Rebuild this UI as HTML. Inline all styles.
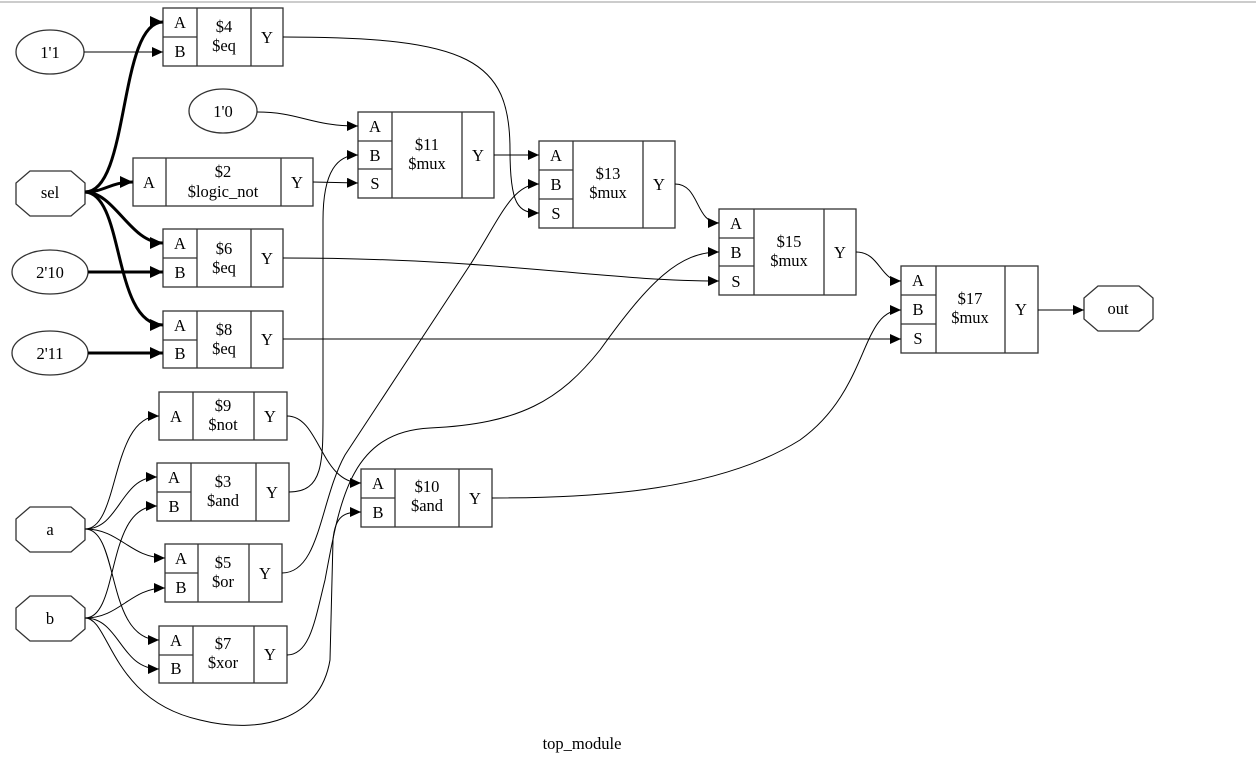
<!DOCTYPE html>
<html><head><meta charset="utf-8"><style>
html,body{margin:0;padding:0;background:#fff;}
svg{display:block;}
text{font-family:"Liberation Serif","DejaVu Serif",serif;font-size:16.5px;fill:#000;}
</style></head><body>
<svg width="1256" height="758" viewBox="0 0 1256 758" xmlns="http://www.w3.org/2000/svg">
<defs>
<marker id="ar" markerUnits="userSpaceOnUse" markerWidth="12" markerHeight="10" refX="11" refY="5" orient="auto"><path d="M0,0 L11,5 L0,10 z" fill="#000"/></marker>
<marker id="art" markerUnits="userSpaceOnUse" markerWidth="14" markerHeight="12" refX="13" refY="6" orient="auto"><path d="M0,0 L13,6 L0,12 z" fill="#000"/></marker>
</defs>
<line x1="0" y1="2" x2="1256" y2="2" stroke="#ccc" stroke-width="2"/>
<g fill="none" stroke="#333" stroke-width="1.3">
<ellipse cx="50" cy="52" rx="34" ry="22"/>
<ellipse cx="223" cy="111" rx="34" ry="22"/>
<ellipse cx="50" cy="272" rx="38" ry="22"/>
<ellipse cx="50" cy="353" rx="38" ry="22"/>
<polygon points="30,171 71,171 85,183 85,204 71,216 30,216 16,204 16,183"/>
<polygon points="30,507 71,507 85,519 85,540 71,552 30,552 16,540 16,519"/>
<polygon points="30,596 71,596 85,608 85,629 71,641 30,641 16,629 16,608"/>
<polygon points="1098,286 1139,286 1153,298 1153,319 1139,331 1098,331 1084,319 1084,298"/>
<rect x="163" y="8" width="120" height="58"/><line x1="197" y1="8" x2="197" y2="66"/><line x1="251" y1="8" x2="251" y2="66"/><line x1="163" y1="37" x2="197" y2="37"/>
<rect x="163" y="229" width="120" height="58"/><line x1="197" y1="229" x2="197" y2="287"/><line x1="251" y1="229" x2="251" y2="287"/><line x1="163" y1="258" x2="197" y2="258"/>
<rect x="163" y="311" width="120" height="57"/><line x1="197" y1="311" x2="197" y2="368"/><line x1="251" y1="311" x2="251" y2="368"/><line x1="163" y1="340" x2="197" y2="340"/>
<rect x="133" y="158" width="180" height="48"/><line x1="166" y1="158" x2="166" y2="206"/><line x1="281" y1="158" x2="281" y2="206"/>
<rect x="358" y="112" width="136" height="86"/><line x1="392" y1="112" x2="392" y2="198"/><line x1="462" y1="112" x2="462" y2="198"/><line x1="358" y1="141" x2="392" y2="141"/><line x1="358" y1="169" x2="392" y2="169"/>
<rect x="539" y="141" width="136" height="87"/><line x1="573" y1="141" x2="573" y2="228"/><line x1="643" y1="141" x2="643" y2="228"/><line x1="539" y1="170" x2="573" y2="170"/><line x1="539" y1="199" x2="573" y2="199"/>
<rect x="719" y="209" width="137" height="86"/><line x1="754" y1="209" x2="754" y2="295"/><line x1="824" y1="209" x2="824" y2="295"/><line x1="719" y1="238" x2="754" y2="238"/><line x1="719" y1="266" x2="754" y2="266"/>
<rect x="901" y="266" width="137" height="87"/><line x1="936" y1="266" x2="936" y2="353"/><line x1="1005" y1="266" x2="1005" y2="353"/><line x1="901" y1="295" x2="936" y2="295"/><line x1="901" y1="324" x2="936" y2="324"/>
<rect x="159" y="392" width="128" height="48"/><line x1="193" y1="392" x2="193" y2="440"/><line x1="254" y1="392" x2="254" y2="440"/>
<rect x="157" y="463" width="132" height="58"/><line x1="191" y1="463" x2="191" y2="521"/><line x1="256" y1="463" x2="256" y2="521"/><line x1="157" y1="492" x2="191" y2="492"/>
<rect x="165" y="544" width="117" height="58"/><line x1="198" y1="544" x2="198" y2="602"/><line x1="249" y1="544" x2="249" y2="602"/><line x1="165" y1="573" x2="198" y2="573"/>
<rect x="159" y="626" width="128" height="57"/><line x1="193" y1="626" x2="193" y2="683"/><line x1="254" y1="626" x2="254" y2="683"/><line x1="159" y1="655" x2="193" y2="655"/>
<rect x="361" y="469" width="131" height="58"/><line x1="395" y1="469" x2="395" y2="527"/><line x1="459" y1="469" x2="459" y2="527"/><line x1="361" y1="498" x2="395" y2="498"/>
</g>
<g fill="none" stroke="#000" stroke-width="1" marker-end="url(#ar)">
<path d="M84,52 L163,52"/>
<path d="M257,112 C300,112 310,126 358,126"/>
<path d="M313,182 L358,183"/>
<path d="M289,492 C325,492 323,460 323,400 L323,220 C323,170 338,155 358,155"/>
<path d="M283,37 C470,37 510,60 510,150 C510,205 518,213 539,213"/>
<path d="M494,155 L539,155"/>
<path d="M282,573 C320,573 320,500 345,455 L470,265 C500,218 512,184 539,184"/>
<path d="M675,184 C700,184 695,223 719,223"/>
<path d="M283,258 C500,258 600,281 719,281"/>
<path d="M287,655 C310,655 315,620 325,580 C340,500 350,432 430,428 C520,424 560,400 600,350 C650,280 680,252 719,252"/>
<path d="M287,416 C320,416 320,483 361,483"/>
<path d="M85,618 C110,618 110,700 200,720 C260,735 320,720 330,660 L333,540 C335,515 345,512 361,512"/>
<path d="M492,498 C600,498 720,490 800,440 C870,390 860,310 901,310"/>
<path d="M283,339 L901,339"/>
<path d="M856,252 C880,252 880,281 901,281"/>
<path d="M1038,310 L1084,310"/>
<path d="M85,529 C120,529 110,416 159,416"/>
<path d="M85,529 C120,529 120,477 157,477"/>
<path d="M85,529 C120,529 130,558 165,558"/>
<path d="M85,529 C120,529 105,640 159,640"/>
<path d="M85,618 C120,618 105,506 157,506"/>
<path d="M85,618 C120,618 130,588 165,588"/>
<path d="M85,618 C120,618 120,669 159,669"/>
</g>
<g fill="none" stroke="#000" stroke-width="3" marker-end="url(#art)">
<path d="M85,192 C130,192 118,22 163,22"/>
<path d="M85,192 C105,192 110,182 133,182"/>
<path d="M85,192 C115,192 130,243 163,243"/>
<path d="M85,192 C125,194 112,325 163,325"/>
<path d="M88,272 L163,272"/>
<path d="M88,353 L163,353"/>
</g>
<g text-anchor="middle">
<text x="50" y="58">1'1</text>
<text x="223" y="117">1'0</text>
<text x="50" y="198">sel</text>
<text x="50" y="278">2'10</text>
<text x="50" y="359">2'11</text>
<text x="50" y="535">a</text>
<text x="50" y="624">b</text>
<text x="1118" y="314">out</text>
<text x="180" y="28">A</text><text x="180" y="57">B</text><text x="224" y="32">$4</text><text x="224" y="51">$eq</text><text x="267" y="43">Y</text>
<text x="180" y="249">A</text><text x="180" y="278">B</text><text x="224" y="254">$6</text><text x="224" y="273">$eq</text><text x="267" y="264">Y</text>
<text x="180" y="331">A</text><text x="180" y="359">B</text><text x="224" y="335">$8</text><text x="224" y="354">$eq</text><text x="267" y="345">Y</text>
<text x="149" y="188">A</text><text x="223" y="177">$2</text><text x="223" y="197">$logic_not</text><text x="297" y="188">Y</text>
<text x="375" y="132">A</text><text x="375" y="161">B</text><text x="375" y="189">S</text><text x="427" y="150">$11</text><text x="427" y="169">$mux</text><text x="478" y="161">Y</text>
<text x="556" y="161">A</text><text x="556" y="190">B</text><text x="556" y="219">S</text><text x="608" y="179">$13</text><text x="608" y="198">$mux</text><text x="659" y="190">Y</text>
<text x="736" y="229">A</text><text x="736" y="258">B</text><text x="736" y="287">S</text><text x="789" y="247">$15</text><text x="789" y="266">$mux</text><text x="840" y="258">Y</text>
<text x="918" y="286">A</text><text x="918" y="315">B</text><text x="918" y="344">S</text><text x="970" y="304">$17</text><text x="970" y="323">$mux</text><text x="1021" y="315">Y</text>
<text x="176" y="422">A</text><text x="223" y="411">$9</text><text x="223" y="430">$not</text><text x="270" y="422">Y</text>
<text x="174" y="483">A</text><text x="174" y="512">B</text><text x="223" y="487">$3</text><text x="223" y="506">$and</text><text x="272" y="498">Y</text>
<text x="181" y="564">A</text><text x="181" y="593">B</text><text x="223" y="568">$5</text><text x="223" y="587">$or</text><text x="265" y="579">Y</text>
<text x="176" y="646">A</text><text x="176" y="674">B</text><text x="223" y="649">$7</text><text x="223" y="668">$xor</text><text x="270" y="660">Y</text>
<text x="378" y="489">A</text><text x="378" y="518">B</text><text x="427" y="492">$10</text><text x="427" y="511">$and</text><text x="475" y="504">Y</text>
<text x="582" y="749">top_module</text>
</g>
</svg>
</body></html>
